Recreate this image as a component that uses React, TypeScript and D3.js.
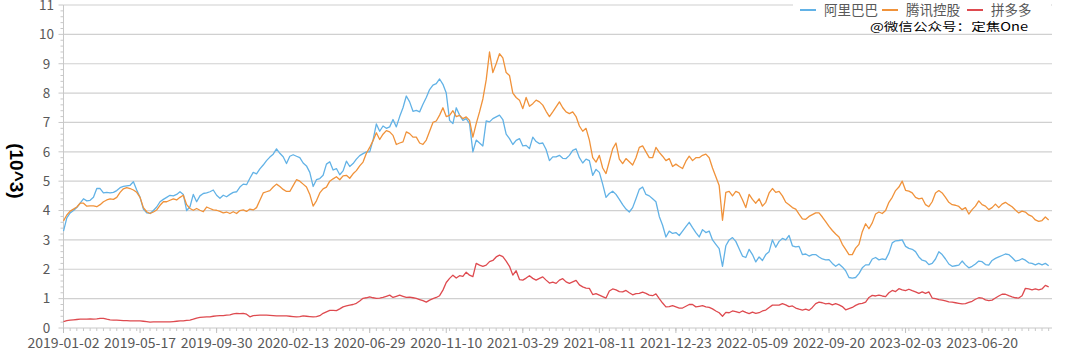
import React from "react";
import * as d3 from "d3";

// Sampled closing values (×1000), one sample every ~4 trading days
const alibaba: number[] = [
  3.3, 3.75, 3.92, 4.0, 4.1, 4.25, 4.4, 4.33, 4.35, 4.45,
  4.75, 4.75, 4.6, 4.62, 4.6, 4.62, 4.68, 4.78, 4.82, 4.84,
  4.86, 4.98, 4.7, 4.45, 4.05, 3.92, 3.9, 4.0, 4.12, 4.3,
  4.38, 4.45, 4.52, 4.5, 4.55, 4.64, 4.55, 4.0, 4.13, 4.55,
  4.3, 4.5, 4.58, 4.6, 4.64, 4.7, 4.52, 4.42, 4.52, 4.47,
  4.55, 4.62, 4.64, 4.8, 4.9, 4.88, 5.1, 5.3, 5.25, 5.42,
  5.55, 5.7, 5.82, 5.92, 6.1, 5.95, 5.83, 5.6, 5.85, 5.9,
  5.85, 5.8, 5.62, 5.52, 5.3, 4.82, 5.05, 5.09, 5.2, 5.58,
  5.66, 5.38, 5.43, 5.22, 5.35, 5.68, 5.5, 5.6, 5.75, 5.87,
  5.94, 6.0, 6.0, 6.4, 6.95, 6.7, 6.88, 6.8, 6.85, 7.1,
  6.85, 7.2, 7.5, 7.9, 7.7, 7.38, 7.41, 7.36, 7.62, 7.85,
  8.12, 8.27, 8.32, 8.48, 8.3, 8.0, 7.07, 6.96, 7.5, 7.25,
  7.07, 7.13, 6.96, 6.0, 6.4, 6.3, 6.2, 7.05, 7.02, 7.13,
  7.19, 7.25, 7.1, 6.6, 6.45, 6.25, 6.39, 6.45, 6.2, 6.22,
  6.11, 6.5, 6.35, 6.28, 6.3, 6.08, 5.7, 5.83, 5.83, 5.88,
  5.78, 5.77, 5.88, 6.05, 6.1, 5.8, 5.62, 5.75, 5.7, 5.2,
  5.4, 5.3, 4.9, 4.45, 4.58, 4.66, 4.55, 4.38, 4.2, 4.05,
  3.95, 4.1, 4.4, 4.72, 4.8, 4.55, 4.5, 4.4, 4.3, 3.8,
  3.5, 3.1, 3.3, 3.22, 3.25, 3.15, 3.3, 3.45, 3.6, 3.42,
  3.25, 3.1, 3.35, 3.25, 3.3, 3.0, 2.85, 2.7, 2.1, 2.8,
  3.0, 3.08, 2.95, 2.7, 2.45, 2.4, 2.68, 2.5, 2.25, 2.42,
  2.3, 2.5, 2.6, 3.0, 2.75, 2.95, 3.05, 3.0, 3.15, 2.8,
  2.76, 2.78, 2.5, 2.52, 2.45, 2.5, 2.5, 2.42, 2.35, 2.32,
  2.33, 2.2, 2.1, 2.18, 2.08, 1.95, 1.72, 1.7, 1.72, 1.85,
  2.05, 2.15, 2.15, 2.35, 2.4, 2.32, 2.35, 2.33, 2.55, 2.9,
  2.97, 2.98, 3.0, 2.78, 2.71, 2.68, 2.6, 2.42, 2.31, 2.28,
  2.16, 2.2, 2.35, 2.6, 2.5, 2.35, 2.18, 2.1, 2.12, 2.14,
  2.28, 2.15, 2.05, 2.1, 2.18, 2.28, 2.26, 2.16, 2.14, 2.3,
  2.37, 2.42, 2.47, 2.52, 2.5, 2.4, 2.28, 2.3, 2.36, 2.31,
  2.22, 2.2, 2.15, 2.2, 2.15, 2.2, 2.12,
];

const tencent: number[] = [
  3.65, 3.85, 3.98, 4.05, 4.12, 4.25, 4.25, 4.15, 4.16, 4.16,
  4.13, 4.2, 4.3, 4.36, 4.4, 4.38, 4.45, 4.62, 4.74, 4.78,
  4.75, 4.7, 4.62, 4.45, 4.1, 3.96, 3.9, 3.95, 4.02, 4.18,
  4.3, 4.3, 4.35, 4.4, 4.36, 4.45, 4.52, 4.2, 4.07, 4.01,
  4.07, 4.01, 3.96, 4.12, 4.07, 4.02, 4.01, 3.97, 3.92, 3.95,
  3.9, 3.96, 3.9, 4.0, 4.02, 3.97, 4.05, 4.02, 4.1, 4.35,
  4.6, 4.64, 4.68, 4.8, 4.9, 4.82, 4.72, 4.65, 4.65, 4.85,
  5.05, 5.0, 4.9, 4.8, 4.55, 4.15, 4.33, 4.6, 4.74, 4.8,
  5.0, 5.08, 5.15, 5.05, 5.18, 5.2, 5.1, 5.25, 5.36, 5.52,
  5.65, 5.95, 6.15, 6.38, 6.65, 6.42, 6.6, 6.72, 6.68, 6.56,
  6.25, 6.3, 6.34, 6.68, 6.62, 6.5, 6.5, 6.3, 6.25, 6.4,
  6.7, 7.0, 7.05, 7.25, 7.5, 7.2, 7.24, 7.4, 7.2, 7.24,
  7.13, 7.19, 7.07, 6.5, 6.96, 7.36, 7.8, 8.45, 9.4, 8.7,
  9.0, 9.34, 9.2, 8.7, 8.6, 8.0, 7.85, 7.76, 7.47, 7.85,
  7.55, 7.64, 7.76, 7.7, 7.59, 7.38, 7.2, 7.36, 7.53, 7.7,
  7.5, 7.36, 7.3, 7.36, 7.2, 6.88, 6.7, 6.8, 6.4, 5.8,
  5.65, 5.88, 5.45, 5.26, 5.68, 6.1, 6.3, 5.75, 5.6, 5.77,
  5.66, 5.55, 5.8, 6.15, 6.2, 6.0, 5.8, 5.8, 6.15, 5.98,
  5.85, 5.7, 5.77, 5.5, 5.58, 5.5, 5.43, 5.68, 5.85, 5.7,
  5.8, 5.8, 5.88, 5.92, 5.8, 5.45, 5.15, 4.85, 3.67, 4.62,
  4.65, 4.5, 4.65, 4.6, 4.37, 4.1, 4.55, 4.38, 4.25, 4.4,
  4.15, 4.28, 4.6, 4.75, 4.62, 4.65, 4.5, 4.28, 4.2, 4.1,
  4.05, 3.88, 3.72, 3.7, 3.8, 3.86, 3.92, 3.92, 3.78, 3.62,
  3.46, 3.32, 3.2, 3.1, 2.85, 2.68, 2.5, 2.5, 2.72, 2.85,
  3.28, 3.55, 3.38, 3.58, 3.88, 3.95, 3.9, 4.0, 4.28, 4.45,
  4.68, 4.8, 5.0, 4.69, 4.66, 4.6, 4.45, 4.4, 4.42, 4.2,
  4.13, 4.3, 4.6, 4.68, 4.6, 4.45, 4.28, 4.2, 4.18, 4.14,
  4.03, 4.1, 3.88, 4.03, 4.15, 4.33, 4.2, 4.15, 4.03, 4.1,
  4.22, 4.1, 4.22, 4.28, 4.2, 4.13, 4.02, 3.92, 3.98, 3.95,
  3.85, 3.8, 3.68, 3.63, 3.66, 3.78, 3.68,
];

const pinduoduo: number[] = [
  0.22, 0.25, 0.27, 0.28, 0.29, 0.3, 0.3, 0.3, 0.31, 0.3,
  0.31, 0.33, 0.33, 0.3, 0.28, 0.27, 0.27, 0.26, 0.25, 0.25,
  0.24, 0.24, 0.24, 0.24, 0.23, 0.22, 0.2, 0.21, 0.21, 0.21,
  0.21, 0.21, 0.21, 0.22, 0.23, 0.24, 0.24, 0.26, 0.27, 0.3,
  0.34, 0.36, 0.37, 0.38, 0.38, 0.4, 0.41, 0.42, 0.42, 0.44,
  0.45, 0.48, 0.5, 0.49, 0.5, 0.47, 0.38, 0.42, 0.43, 0.44,
  0.44, 0.44, 0.43, 0.42, 0.41, 0.41, 0.41, 0.41, 0.4, 0.39,
  0.38, 0.39, 0.41, 0.4, 0.39, 0.38, 0.39, 0.42, 0.5, 0.55,
  0.6, 0.6, 0.59, 0.65, 0.72, 0.75, 0.78, 0.8, 0.84, 0.92,
  1.01, 1.03, 1.06, 1.03, 1.01, 1.02, 1.04, 1.08, 1.12, 1.04,
  1.08, 1.12, 1.08, 1.04, 1.05, 1.03, 1.01, 0.97, 0.93, 0.88,
  0.95, 1.0, 1.04, 1.1, 1.29, 1.55, 1.69, 1.8, 1.7, 1.78,
  1.76, 1.9, 1.8, 1.75, 2.2, 2.14, 2.1, 2.14, 2.26, 2.3,
  2.42, 2.48, 2.43, 2.28, 2.1, 1.8, 1.95, 1.65, 1.63, 1.7,
  1.78, 1.69, 1.63, 1.69, 1.74, 1.63, 1.53, 1.56, 1.52, 1.63,
  1.68, 1.57, 1.52, 1.57, 1.62, 1.47, 1.4, 1.36, 1.35, 1.14,
  1.17, 1.12, 1.07, 1.02, 1.26, 1.33, 1.3, 1.24, 1.23, 1.28,
  1.2, 1.13, 1.17, 1.18, 1.22, 1.18, 1.12, 1.1, 1.16, 1.0,
  0.85, 0.72, 0.73, 0.76, 0.72, 0.68, 0.68, 0.74, 0.8, 0.8,
  0.72, 0.74, 0.76, 0.72, 0.7, 0.65, 0.58, 0.52, 0.4, 0.53,
  0.52, 0.58, 0.56, 0.52, 0.58, 0.53, 0.49, 0.54, 0.5, 0.52,
  0.58, 0.61, 0.7, 0.78, 0.78, 0.78, 0.83, 0.79, 0.73, 0.75,
  0.68, 0.64, 0.61, 0.64, 0.6, 0.7, 0.83, 0.88, 0.86, 0.82,
  0.84, 0.79, 0.83, 0.79, 0.73, 0.62, 0.66, 0.7, 0.77, 0.82,
  0.84, 0.88, 1.04, 1.11, 1.09, 1.12, 1.09, 1.07, 1.2, 1.28,
  1.24, 1.34, 1.3, 1.27, 1.32, 1.27, 1.23, 1.18, 1.23, 1.18,
  1.23, 1.02, 1.0, 0.97, 0.95, 0.92, 0.89, 0.88, 0.86, 0.84,
  0.82, 0.83, 0.87, 0.91, 0.98, 1.03, 1.02, 0.96, 0.93, 0.95,
  1.02, 1.09, 1.15, 1.15, 1.1, 1.06, 1.03, 1.02, 1.1, 1.35,
  1.33, 1.3, 1.33, 1.3, 1.33, 1.45, 1.4,
];

const dateLabels: string[] = [
  "2019-01-02", "2019-05-17", "2019-09-30", "2020-02-13", "2020-06-29",
  "2020-11-10", "2021-03-29", "2021-08-11", "2021-12-23", "2022-05-09",
  "2022-09-20", "2023-02-03", "2023-06-20",
];
const labelStep = 23; // samples between date labels
const yTicks: number[] = [0, 1, 2, 3, 4, 5, 6, 7, 8, 9, 10, 11];

const seriesNames = ["阿里巴巴", "腾讯控股", "拼多多"];
const seriesColors = ["#62b2e6", "#f0923a", "#de4a4f"];
const seriesData = [alibaba, tencent, pinduoduo];

const W = 1080;
const H = 357;
const M = { left: 63.5, right: 28, top: 5, bottom: 29 };

export default function App() {
  const N = alibaba.length;
  const x = d3.scaleLinear().domain([0, N]).range([M.left, W - M.right]);
  const y = d3.scaleLinear().domain([0, 11]).range([H - M.bottom, M.top]);
  const line = d3
    .line<number>()
    .x((_, i) => x(i))
    .y((d) => y(d));

  const minorY = d3.range(0, 11.001, 0.2);
  const minorX = d3.range(0, N + 1, 2);
  const majorX = dateLabels.map((_, i) => i * labelStep);
  const gray = "#595959";
  const font = "'Noto Sans CJK JP', 'Noto Sans', sans-serif";

  const legendX = [800, 882, 967];

  return (
    <svg
      width={W}
      height={H}
      style={{ position: "absolute", left: 0, top: 0, background: "#fff" }}
      fontFamily={font}
    >
      <rect x={0} y={0} width={W} height={H} fill="#fff" />
      {/* gridlines */}
      {yTicks.slice(1).map((t) => (
        <line
          key={"g" + t}
          x1={x(0)}
          x2={x(N)}
          y1={y(t)}
          y2={y(t)}
          stroke="#d0d0d0"
          strokeWidth={1.2}
        />
      ))}
      {/* y axis */}
      <line x1={x(0)} x2={x(0)} y1={y(0)} y2={y(11)} stroke="#c8c8c8" strokeWidth={1} />
      {minorY.map((t, i) => (
        <line
          key={"my" + i}
          x1={x(0) - (i % 5 === 0 ? 5 : 3)}
          x2={x(0)}
          y1={y(t)}
          y2={y(t)}
          stroke="#c8c8c8"
          strokeWidth={1}
        />
      ))}
      {yTicks.map((t) => (
        <text
          key={"yl" + t}
          x={x(0) - 17}
          y={y(t)}
          dy="0.36em"
          textAnchor="middle"
          fontSize={13.5}
          fill={gray}
        >
          {t}
        </text>
      ))}
      {/* x axis */}
      <line x1={x(0)} x2={x(N)} y1={y(0)} y2={y(0)} stroke="#c8c8c8" strokeWidth={1} />
      {minorX.map((k) => (
        <line
          key={"mx" + k}
          x1={x(k)}
          x2={x(k)}
          y1={y(0)}
          y2={y(0) + 3}
          stroke="#c8c8c8"
          strokeWidth={1}
        />
      ))}
      {majorX.map((k) => (
        <line
          key={"Mx" + k}
          x1={x(k)}
          x2={x(k)}
          y1={y(0)}
          y2={y(0) + 5}
          stroke="#c0c0c0"
          strokeWidth={1}
        />
      ))}
      {dateLabels.map((d, i) => (
        <text
          key={d}
          x={x(majorX[i])}
          y={y(0) + 20}
          textAnchor="middle"
          fontSize={14}
          fill={gray}
        >
          {d}
        </text>
      ))}
      {/* series */}
      {seriesData.map((s, i) => (
        <path
          key={seriesNames[i]}
          d={line(s) || ""}
          fill="none"
          stroke={seriesColors[i]}
          strokeWidth={1.3}
          strokeLinejoin="round"
        />
      ))}
      {/* y title */}
      <text
        transform={`translate(10, ${y(5.35)}) rotate(90)`}
        textAnchor="middle"
        fontFamily="'Liberation Sans', Arial, sans-serif"
        fontWeight="bold"
        fontSize={19}
        fill="#000"
      >
        (10^3)
      </text>
      {/* legend */}
      <rect x={793} y={0} width={258} height={17} fill="#fff" />
      {seriesNames.map((n, i) => (
        <g key={"lg" + n}>
          <line
            x1={legendX[i]}
            x2={legendX[i] + 16}
            y1={y(11) + 5}
            y2={y(11) + 5}
            stroke={seriesColors[i]}
            strokeWidth={2}
          />
          <text
            x={legendX[i] + 24}
            y={y(11) + 5}
            dy="0.36em"
            fontSize={13.5}
            fill={gray}
          >
            {n}
          </text>
        </g>
      ))}
      {/* watermark */}
      <text
        x={870}
        y={31}
        fontSize={11.5}
        fill="#000"
        textLength={158}
        lengthAdjust="spacingAndGlyphs"
        fontFamily="'Noto Sans CJK SC', sans-serif"
      >
        @微信公众号：定焦One
      </text>
    </svg>
  );
}
